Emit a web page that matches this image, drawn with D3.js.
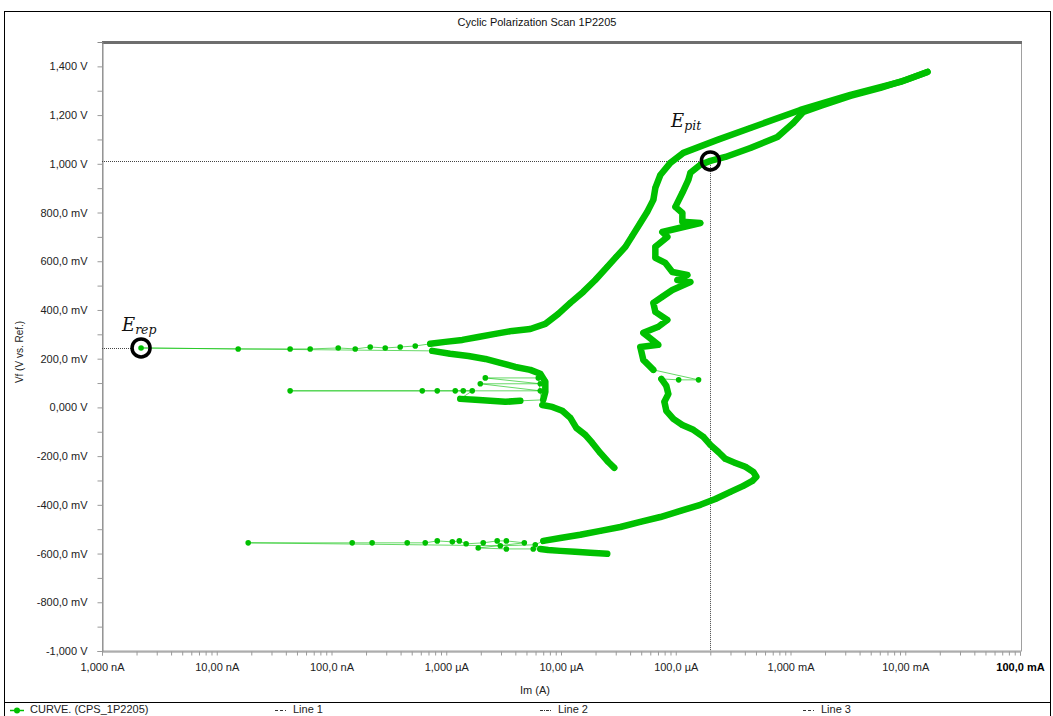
<!DOCTYPE html>
<html><head><meta charset="utf-8">
<script src="https://cdn.jsdelivr.net/npm/d3@7"></script>
<style>body{margin:0;background:#fff;}</style>
</head><body>
<svg id="chart" width="1053" height="716"></svg>
<script>
// ---------------- DATA ----------------
const chartTitle = "Cyclic Polarization Scan 1P2205";
const xAxisTitle = "Im (A)";
const yAxisTitle = "Vf (V vs. Ref.)";
// current in µA, potential in mV
const xTickValues = [1e-3, 1e-2, 1e-1, 1, 10, 100, 1e3, 1e4, 1e5];
const xTickLabels = ["1,000 nA","10,00 nA","100,0 nA","1,000 µA","10,00 µA","100,0 µA","1,000 mA","10,00 mA","100,0 mA"];
const yTickValues = [1400, 1200, 1000, 800, 600, 400, 200, 0, -200, -400, -600, -800, -1000];
const yTickLabels = ["1,400 V","1,200 V","1,000 V","800,0 mV","600,0 mV","400,0 mV","200,0 mV","0,000 V","-200,0 mV","-400,0 mV","-600,0 mV","-800,0 mV","-1,000 V"];
const legendLabels = ["CURVE. (CPS_1P2205)", "Line 1", "Line 2", "Line 3"];

// forward scan: cathodic tail
const fwdTailI = [25.3, 18.0, 13.3, 9.86, 7.75, 6.60];
const fwdTailV = [-601, -597, -593, -589, -585, -581];
// forward scan: around corrosion potential (sparse)
const fwdEcorrI = [5.73, 3.34, 1.90, 4.79, 3.34, 2.78, 2.10, 1.49, 1.30, 1.13, 0.835, 0.656, 0.457, 0.226, 0.1515, 0.0188, 2.96, 5.97];
const fwdEcorrV = [-581, -581, -577, -556, -548, -548, -556, -560, -548, -552, -548, -556, -556, -556, -556, -556, -568, -564];
// forward scan: anodic nose
const fwdAnodicAI = [7.01, 9.86, 14.7, 22.0, 32.9, 49.1, 73.4, 109.7, 163.9, 221.4, 299.2, 388.5, 465.4, 504.3, 474.8, 404.5, 330.8, 270.6, 235.2, 200.3, 174.0, 142.4, 114.2, 95.3, 82.8, 79.6, 86.2, 82.8, 74.9];
const fwdAnodicAV = [-548, -536, -523, -507, -491, -470, -450, -425, -400, -376, -347, -322, -302, -285, -265, -244, -228, -211, -183, -154, -121, -92, -72, -47, -14, 23, 55, 88, 117];
// forward scan: spike
const fwdSpikeI = [106.0, 158.0];
const fwdSpikeV = [113, 113];
// forward scan: passive region, pitting and transpassive
const fwdAnodicBI = [63.8, 52.2, 49.1, 70.5, 52.2, 70.5, 84.5, 66.4, 63.8, 76.4, 93.4, 134.1, 103.3, 126.3, 93.4, 81.2, 66.4, 66.4, 84.5, 76.4, 163.9, 114.2, 114.2, 99.2, 114.2, 128.8, 134.1, 163.9, 200.3, 270.6, 447, 768.8, 1060, 1296, 1822, 3328, 6078, 10040, 15620];
const fwdAnodicBV = [154, 195, 248, 257, 306, 331, 359, 392, 429, 454, 482, 515, 523, 544, 556, 593, 614, 659, 700, 720, 757, 762, 798, 823, 881, 934, 963, 996, 1012, 1028, 1065, 1110, 1168, 1213, 1238, 1279, 1312, 1344, 1377];
// reverse scan: anodic
const revAnodicI = [15620, 9081, 3328, 1220, 447, 230.6, 116.5, 89.7, 73.4, 66.4, 63.8, 56.5, 49.1, 41.8, 36.4, 30.3, 25.3, 19.9, 15.6, 12.06, 9.47, 7.30, 5.40, 3.76, 2.67, 1.90, 1.38, 0.98, 0.725];
const revAnodicV = [1377, 1336, 1283, 1221, 1147, 1098, 1045, 1004, 954, 901, 852, 803, 757, 704, 659, 618, 577, 523, 474, 429, 384, 343, 322, 314, 302, 289, 277, 269, 261];
// reverse scan: around repassivation potential (sparse)
const revErepI = [0.537, 0.397, 0.294, 0.2175, 0.161, 0.1144, 0.0652, 0.0436, 0.01537, 0.00219];
const revErepV = [252, 248, 244, 248, 240, 244, 240, 240, 240, 244];
// reverse scan: cathodic
const revCathodicAI = [0.755, 1.08, 1.56, 2.19, 2.96, 4.00, 5.40, 6.60, 7.30, 7.30, 7.0];
const revCathodicAV = [232, 220, 211, 199, 183, 166, 154, 138, 105, 64, 31];
const revBandI = [4.42, 3.27, 2.42, 1.79, 1.325];
const revBandV = [27, 23, 27, 31, 35];
const revNoiseI = [1.685, 1.406, 1.198, 0.835, 0.618, 0.0436, 6.60, 1.98, 6.60, 2.19, 6.34];
const revNoiseV = [68, 68, 68, 68, 68, 68, 68, 97, 97, 121, 121];
const revCathodicBI = [6.87, 8.40, 10.26, 12.06, 13.6, 16.29, 18.75, 22.0, 25.85, 29.15];
const revCathodicBV = [10, 2, -14, -43, -84, -113, -146, -187, -224, -248];

// marked potentials
const epitI = 200.3, epitV = 1012;
const erepI = 0.00219, erepV = 244;

// ---------------- DRAW ----------------
const FONT = '"Liberation Sans", Arial, sans-serif';
const svg = d3.select("#chart").style("font-family", FONT);
const green = "#00c000";
const L = 102, R = 1020, T = 42, B = 651;
const x = d3.scaleLog().domain([1e-3, 1e5]).range([L, R]);
const y = d3.scaleLinear().domain([-1000, 1500]).range([B, T]);

// outer frame
svg.append("rect").attr("x", 4.5).attr("y", 11.5).attr("width", 1046).attr("height", 720)
  .attr("fill", "none").attr("stroke", "#000").attr("stroke-width", 1);
svg.append("line").attr("x1", 4).attr("x2", 1051).attr("y1", 702.5).attr("y2", 702.5)
  .attr("stroke", "#000").attr("stroke-width", 1.2);

svg.append("text").attr("x", 537).attr("y", 26).attr("text-anchor", "middle")
  .attr("font-size", 11).attr("fill", "#111").text(chartTitle);

// plot frame
svg.append("rect").attr("x", L + 0.5).attr("y", T).attr("width", R - L + 1).attr("height", B - T)
  .attr("fill", "none").attr("stroke", "#a0a0a0").attr("stroke-width", 1);
svg.append("line").attr("x1", L).attr("x2", R + 2).attr("y1", T + 0.5).attr("y2", T + 0.5)
  .attr("stroke", "#6e6e6e").attr("stroke-width", 3);

// y axis
const yMinor = d3.range(-900, 1500, 200);
svg.append("g").attr("transform", `translate(${L + 0.5},0)`)
  .call(d3.axisLeft(y).tickValues(yTickValues).tickSize(5).tickPadding(10)
    .tickFormat((d, i) => yTickLabels[i]));
svg.append("g").attr("transform", `translate(${L + 0.5},0)`)
  .call(d3.axisLeft(y).tickValues(yMinor).tickSize(5).tickFormat(""))
  .call(g => g.select(".domain").remove());
// x axis
const xMinor = [];
xTickValues.slice(0, -1).forEach(v => { for (let k = 2; k <= 9; k++) xMinor.push(v * k); });
svg.append("g").attr("transform", `translate(0,${B + 0.5})`)
  .call(d3.axisBottom(x).tickValues(xTickValues).tickSize(4).tickPadding(8)
    .tickFormat((d, i) => xTickLabels[i]));
svg.append("g").attr("transform", `translate(0,${B + 0.5})`)
  .call(d3.axisBottom(x).tickValues(xMinor).tickSize(4).tickFormat(""))
  .call(g => g.select(".domain").remove());
svg.selectAll(".domain").attr("stroke", "#8a8a8a");
svg.selectAll(".tick line").attr("stroke", "#9a9a9a");
svg.selectAll(".tick text").attr("font-size", 11).attr("fill", "#222").style("font-family", FONT);
svg.selectAll(".tick text").filter(d => d === 1e5).attr("font-weight", "bold").attr("fill", "#000");

svg.append("text").attr("x", 535).attr("y", 694).attr("text-anchor", "middle")
  .attr("font-size", 11).attr("fill", "#222").text(xAxisTitle);
svg.append("text").attr("transform", "translate(23,352) rotate(-90)").attr("text-anchor", "middle")
  .attr("font-size", 10).attr("fill", "#222").text(yAxisTitle);

// reference dotted lines
const dotted = svg.append("g").attr("stroke", "#444").attr("stroke-width", 1)
  .attr("stroke-dasharray", "1,1").attr("fill", "none");
dotted.append("line").attr("x1", L).attr("x2", x(epitI)).attr("y1", Math.round(y(epitV)) + 0.5).attr("y2", Math.round(y(epitV)) + 0.5);
dotted.append("line").attr("x1", Math.round(x(epitI)) + 0.5).attr("x2", Math.round(x(epitI)) + 0.5).attr("y1", y(epitV)).attr("y2", B);
dotted.append("line").attr("x1", L).attr("x2", x(erepI) - 9).attr("y1", Math.round(y(erepV)) + 0.5).attr("y2", Math.round(y(erepV)) + 0.5);

// curve
const segs = [
  { I: fwdTailI, V: fwdTailV, dense: true },
  { I: fwdEcorrI, V: fwdEcorrV, dense: false },
  { I: fwdAnodicAI, V: fwdAnodicAV, dense: true },
  { I: fwdSpikeI, V: fwdSpikeV, dense: false },
  { I: fwdAnodicBI, V: fwdAnodicBV, dense: true },
  { I: revAnodicI, V: revAnodicV, dense: true },
  { I: revErepI, V: revErepV, dense: false },
  { I: revCathodicAI, V: revCathodicAV, dense: true },
  { I: revBandI, V: revBandV, dense: true },
  { I: revNoiseI, V: revNoiseV, dense: false },
  { I: revCathodicBI, V: revCathodicBV, dense: true }
].map(s => ({ dense: s.dense, pts: s.I.map((v, i) => [v, s.V[i]]) }));
const allPts = segs.flatMap(s => s.pts);
const line = d3.line().x(d => x(d[0])).y(d => y(d[1]));
const cg = svg.append("g");
cg.append("path").attr("d", line(allPts)).attr("fill", "none").attr("stroke", green)
  .attr("stroke-width", 1).attr("stroke-opacity", 0.6);
segs.filter(s => s.dense).forEach(s => {
  cg.append("path").attr("d", line(s.pts)).attr("fill", "none").attr("stroke", green)
    .attr("stroke-width", 6.5).attr("stroke-linejoin", "round").attr("stroke-linecap", "round");
});
cg.selectAll("circle").data(allPts).join("circle")
  .attr("cx", d => x(d[0])).attr("cy", d => y(d[1])).attr("r", 2.8).attr("fill", green);

// circled markers
[[epitI, epitV], [erepI, erepV]].forEach(d => {
  svg.append("circle").attr("cx", x(d[0])).attr("cy", y(d[1])).attr("r", 9)
    .attr("fill", "none").attr("stroke", "#000").attr("stroke-width", 3.5);
});
function eLabel(px, py, sub) {
  const t = svg.append("text").attr("x", px).attr("y", py)
    .style("font-family", '"DejaVu Serif", "Liberation Serif", serif').style("font-style", "italic").attr("fill", "#111");
  t.append("tspan").attr("font-size", 18).text("E");
  t.append("tspan").attr("font-size", 12.5).attr("dy", 3).text(sub);
}
eLabel(671, 127, "pit");
eLabel(122, 331, "rep");

// legend
const lg = svg.append("g").attr("font-size", 11).attr("fill", "#222");
lg.append("line").attr("x1", 10).attr("x2", 24).attr("y1", 710.5).attr("y2", 710.5).attr("stroke", green).attr("stroke-width", 1.5);
lg.append("circle").attr("cx", 17).attr("cy", 710.5).attr("r", 3).attr("fill", green);
lg.append("text").attr("x", 30).attr("y", 713).text(legendLabels[0]);
[[275, "3,2", 1], [540, "3,1,1,1", 2], [803, "3,2", 3]].forEach(([lx, da, i]) => {
  lg.append("line").attr("x1", lx).attr("x2", lx + 11).attr("y1", 710.5).attr("y2", 710.5)
    .attr("stroke", "#333").attr("stroke-width", 1).attr("stroke-dasharray", da);
  lg.append("text").attr("x", lx + 18).attr("y", 713).text(legendLabels[i]);
});
</script>
</body></html>
